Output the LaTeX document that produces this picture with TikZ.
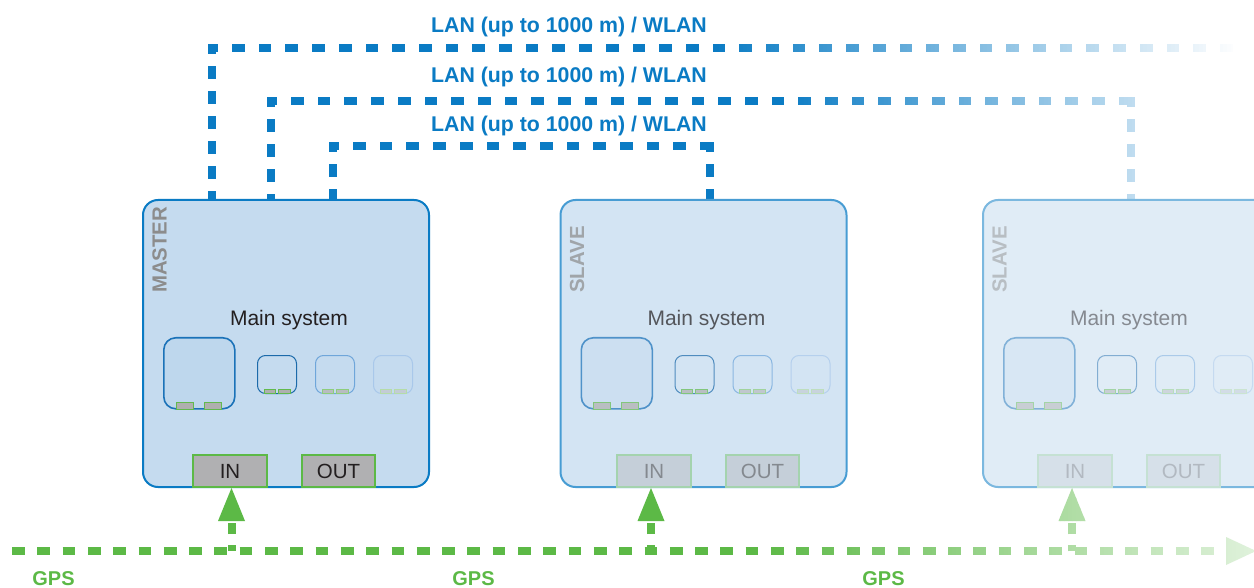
\documentclass[tikz,border=0pt]{standalone}
\usepackage{fontspec}
\setmainfont{Liberation Sans}
\usetikzlibrary{arrows.meta}
\pgfdeclarelayer{bg}
\pgfsetlayers{bg,main}

\definecolor{lanblue}{HTML}{0A7BC4}
\definecolor{gpsgreen}{HTML}{5CB946}
\definecolor{basefill}{HTML}{C5DBEF}
\definecolor{baseborder}{HTML}{0A7BC4}
\definecolor{baselabel}{HTML}{8C8C8C}
\definecolor{basetext}{HTML}{231F20}
\definecolor{basebig}{HTML}{1B72B8}
\definecolor{basesqa}{HTML}{1C6AAA}
\definecolor{basesqb}{HTML}{6FA6DA}
\definecolor{basesqc}{HTML}{A9C8EA}
\definecolor{basega}{HTML}{62BA4E}
\definecolor{basegb}{HTML}{8DCD7C}
\definecolor{basegc}{HTML}{B5DCA9}
\definecolor{basegfa}{HTML}{AFAFAF}
\definecolor{basegfb}{HTML}{B8BCC0}
\definecolor{basegfc}{HTML}{C3CCD5}
\definecolor{baseinfill}{HTML}{B0B0B2}

\tikzset{
  unitbox/.style={rounded corners=15pt, line width=2pt, minimum width=286pt, minimum height=287pt, inner sep=0pt, anchor=north west},
  bigsq/.style={rounded corners=12pt, line width=1.6pt, minimum width=71pt, minimum height=71pt, inner sep=0pt, anchor=north west},
  smallsq/.style={rounded corners=8pt, line width=1pt, minimum width=39pt, minimum height=38pt, inner sep=0pt, anchor=north west},
  grect/.style={line width=1.3pt, inner sep=0pt, anchor=north west},
  iobox/.style={line width=2pt, minimum height=32pt, inner sep=0pt, anchor=north west, font=\fontsize{20.5}{24}\selectfont},
  unitlabel/.style={rotate=90, anchor=base west, inner sep=0pt, font=\bfseries\fontsize{20.4}{24}\selectfont},
  maintext/.style={anchor=base, inner sep=0pt, font=\fontsize{21}{25}\selectfont},
  lantext/.style={anchor=base, inner sep=0pt, text=lanblue, font=\bfseries\fontsize{21.3}{25}\selectfont},
  gpstext/.style={anchor=base, inner sep=0pt, text=gpsgreen, font=\bfseries\fontsize{20}{24}\selectfont},
  lanh/.style={draw=cur, line width=8pt, line cap=rect, dash pattern=on 4.7pt off 22pt, dash phase=2.7pt},
  lanv/.style={draw=cur, line width=8pt, line cap=rect, dash pattern=on 4.5pt off 20.5pt, dash phase=2.5pt},
  gpsline/.style={draw=cur, line width=8pt, dash pattern=on 12.7pt off 12.6pt, -{Triangle[length=30pt,width=28pt,line width=0pt]}},
  gpsup/.style={draw=cur, line width=8pt, dash pattern=on 6pt off 11pt on 11pt off 60pt, -{Triangle[length=33pt,width=27pt,line width=0pt]}},
}

% #1 prefix, #2 box left, #3 label, #4 box strength, #5 inner strength, #6 IO strength, #7 IN left
\newcommand\unitbox[7]{%
  \colorlet{#1fill}{basefill!#4!white}%
  \colorlet{#1border}{baseborder!#4!white}%
  \colorlet{#1label}{baselabel!#5!#1fill}%
  \colorlet{#1text}{basetext!#5!#1fill}%
  \colorlet{#1big}{basebig!#5!#1fill}%
  \colorlet{#1bigin}{basebig!4!#1fill}%
  \colorlet{#1sqa}{basesqa!#5!#1fill}%
  \colorlet{#1sqb}{basesqb!#5!#1fill}%
  \colorlet{#1sqc}{basesqc!#5!#1fill}%
  \colorlet{#1ga}{basega!#5!#1fill}%
  \colorlet{#1gb}{basegb!#5!#1fill}%
  \colorlet{#1gc}{basegc!#5!#1fill}%
  \colorlet{#1gfa}{basegfa!#5!#1fill}%
  \colorlet{#1gfb}{basegfb!#5!#1fill}%
  \colorlet{#1gfc}{basegfc!#5!#1fill}%
  \colorlet{#1infill}{baseinfill!#6!#1fill}%
  \colorlet{#1inborder}{gpsgreen!#6!#1fill}%
  \colorlet{#1intext}{basetext!#6!#1infill}%
  \node[unitbox, fill=#1fill, draw=#1border] (#1) at (#2,199) {};
  \node[unitlabel, text=#1label] (#1label) at (#2+24.5,293) {#3};
  \node[maintext, text=#1text] (#1main) at (#2+147,326) {Main system};
  \node[bigsq, draw=#1big, fill=#1bigin] (#1big) at (#2+21,337) {};
  \node[grect, draw=#1ga, fill=#1gfa, minimum width=17pt, minimum height=7pt] (#1bgL) at (#2+33.5,401.5) {};
  \node[grect, draw=#1ga, fill=#1gfa, minimum width=17pt, minimum height=7pt] (#1bgR) at (#2+61.5,401.5) {};
  \foreach \j/\sx in {a/115,b/173,c/231}{%
    \node[smallsq, draw=#1sq\j] (#1sq\j) at (#2+\sx,355) {};
    \node[grect, draw=#1g\j, fill=#1gf\j, minimum width=11pt, minimum height=4.2pt] (#1sq\j L) at (#2+\sx+6.5,388.5) {};
    \node[grect, draw=#1g\j, fill=#1gf\j, minimum width=12pt, minimum height=4.2pt] (#1sq\j R) at (#2+\sx+20.5,388.5) {};
  }
  \node[iobox, fill=#1infill, draw=#1inborder, text=#1intext, minimum width=74pt] (#1IN) at (#7,454) {IN};
  \node[iobox, fill=#1infill, draw=#1inborder, text=#1intext, minimum width=73pt] (#1OUT) at (#7+109,454) {OUT};
}

% #1 colour, #2 fade start x, #3 fade end x, #4 drawing code using colour cur
\newcommand\fadegroup[4]{%
  \begin{scope}
    \clip (-20,-20) rectangle (#2,620);
    \colorlet{cur}{#1}
    #4
  \end{scope}
  \foreach \k in {0,...,150}{%
    \pgfmathsetmacro\xs{#2+4*\k}
    \pgfmathsetmacro\s{max(0,min(100,(#3-\xs-2)/(#3-#2)*100))}
    \colorlet{cur}{#1!\s!white}
    \begin{scope}
      \clip (\xs,-20) rectangle (\xs+4.4,620);
      #4
    \end{scope}
  }%
}

\begin{document}
\begin{tikzpicture}[x=1pt,y=-1pt]
  \begin{pgfonlayer}{bg}
    \fill[white] (0,0) rectangle (1254,588);
  \end{pgfonlayer}
  \useasboundingbox (0,0) rectangle (1254,588);

  % units
  \unitbox{ma}{142}{MASTER}{100}{100}{100}{192}
  \unitbox{sa}{559.5}{SLAVE}{75}{72}{40}{616}
  \unitbox{sb}{982}{SLAVE}{54}{48}{20}{1037}

  % LAN labels
  \node[lantext] (lan1) at (569,32.3) {LAN (up to 1000 m) / WLAN};
  \node[lantext] (lan2) at (569,82.7) {LAN (up to 1000 m) / WLAN};
  \node[lantext] (lan3) at (569,131.7) {LAN (up to 1000 m) / WLAN};

  % LAN connectors
  \coordinate (c1) at (212,48);
  \coordinate (e1) at (1262,48);
  \coordinate (c2a) at (271,101);
  \coordinate (c2b) at (1131,101);
  \coordinate (c3a) at (333,146);
  \coordinate (c3b) at (710,146);
  \begin{pgfonlayer}{bg}
    \fadegroup{lanblue}{715}{1240}{%
      \draw[lanh] (c1) -- (e1);
      \draw[lanv] (c1) -- (c1 |- ma.north);}
    \fadegroup{lanblue}{780}{1260}{%
      \draw[lanh] (c2a) -- (c2b);
      \draw[lanv] (c2a) -- (c2a |- ma.north);
      \draw[lanv] (c2b) -- (c2b |- sb.north);}
    \colorlet{cur}{lanblue}
    \draw[lanh] (c3a) -- (c3b);
    \draw[lanv] (c3a) -- (c3a |- ma.north);
    \draw[lanv] (c3b) -- (c3b |- sa.north);
  \end{pgfonlayer}

  % GPS
  \coordinate (g0) at (12,551);
  \coordinate (g1) at (1256,551);
  \coordinate (ga) at (231.5,551);
  \coordinate (gb) at (651,551);
  \coordinate (gc) at (1072,551);
  \fadegroup{gpsgreen}{760}{1372}{%
    \draw[gpsline] (g0) -- (g1);
    \draw[gpsup] (ga) -- (ga |- maIN.south);
    \draw[gpsup] (gb) -- (gb |- saIN.south);
    \draw[gpsup] (gc) -- (gc |- sbIN.south);}

  \node[gpstext] (gps1) at (53.5,585) {GPS};
  \node[gpstext] (gps2) at (473.5,585) {GPS};
  \node[gpstext] (gps3) at (883.5,585) {GPS};
\end{tikzpicture}
\end{document}
